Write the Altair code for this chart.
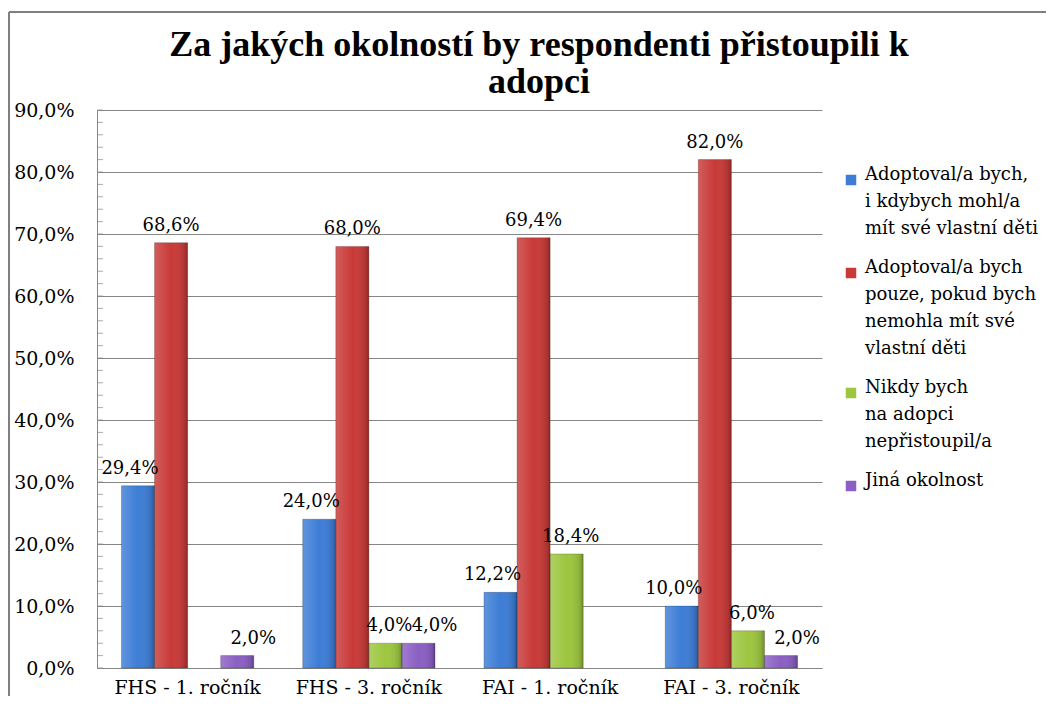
import altair as alt
import pandas as pd

title_lines = ["Za jakých okolností by respondenti přistoupili k", "adopci"]
categories = ["FHS - 1. ročník", "FHS - 3. ročník", "FAI - 1. ročník", "FAI - 3. ročník"]
series = [
    "Adoptoval/a bych,|i kdybych mohl/a|mít své vlastní děti",
    "Adoptoval/a bych|pouze, pokud bych|nemohla mít své|vlastní děti",
    "Nikdy bych|na adopci|nepřistoupil/a",
    "Jiná okolnost",
]
colors = ["#3D7DD6", "#C83A38", "#9DC63F", "#8B5FC3"]
label_dx = [-8, 0, 4, 16]

s_adopt_anyway = [29.4, 24.0, 12.2, 10.0]
s_adopt_only = [68.6, 68.0, 69.4, 82.0]
s_never = [None, 4.0, 18.4, 6.0]
s_other = [2.0, 4.0, None, 2.0]

y_ticks = [0, 10, 20, 30, 40, 50, 60, 70, 80, 90]
minor_ticks = list(range(0, 91, 2))

rows = []
for s, vals in zip(series, [s_adopt_anyway, s_adopt_only, s_never, s_other]):
    for c, v in zip(categories, vals):
        if v is None:
            continue
        rows.append({"cat": c, "series": s, "value": v,
                     "label": f"{v:.1f}".replace(".", ",") + "%"})
df = pd.DataFrame(rows)
df_minor = pd.DataFrame({"value": minor_ticks})
df_one = pd.DataFrame({"k": [0]})

GRAY = "#868686"
FONT = "DejaVu Serif"
TITLE_FONT = "Liberation Serif"

x_enc = alt.X("cat:N", sort=categories, title=None,
              scale=alt.Scale(paddingInner=0.27, paddingOuter=0.135),
              axis=alt.Axis(labelAngle=0, ticks=False, domainColor=GRAY, domainWidth=1,
                            labelFont=FONT, labelFontSize=19, labelColor="black",
                            labelPadding=10))
xo_enc = alt.XOffset("series:N", sort=series, scale=alt.Scale(paddingInner=0, paddingOuter=0))
y_enc = alt.Y("value:Q", title=None,
              scale=alt.Scale(domain=[0, 90], nice=False),
              axis=alt.Axis(values=y_ticks, ticks=False, grid=True, gridColor=GRAY, gridWidth=1,
                            domainColor=GRAY, domainWidth=1, labelFont=FONT, labelFontSize=19,
                            labelColor="black", labelPadding=23,
                            labelExpr="replace(format(datum.value, '.1f'), '.', ',') + '%'"))

base = alt.Chart(df)

bars = base.mark_bar().encode(
    x=x_enc, xOffset=xo_enc, y=y_enc,
    color=alt.Color("series:N", sort=series,
                    scale=alt.Scale(domain=series, range=colors),
                    legend=alt.Legend(title=None, orient="none", legendX=745, legendY=61,
                                      symbolType="square", symbolSize=110, symbolStrokeWidth=0,
                                      labelFont=FONT, labelFontSize=18, labelColor="black",
                                      labelOffset=5, labelLimit=400, rowPadding=21,
                                      labelBaseline="alphabetic",
                                      labelExpr="split(datum.label, '|')")),
)

shade = base.mark_bar(
    fill={"gradient": "linear", "x1": 0, "x2": 1, "y1": 0, "y2": 0,
          "stops": [{"offset": 0, "color": "rgba(255,255,255,0.18)"},
                    {"offset": 0.5, "color": "rgba(255,255,255,0)"},
                    {"offset": 0.9, "color": "rgba(0,0,0,0.12)"},
                    {"offset": 1, "color": "rgba(0,0,0,0.3)"}]},
    stroke="rgba(0,0,0,0.2)", strokeWidth=1,
).encode(x=x_enc, xOffset=xo_enc, y=y_enc)

label_layers = []
for s, dx in zip(series, label_dx):
    label_layers.append(
        base.transform_filter(alt.datum.series == s)
        .mark_text(font=FONT, fontSize=18, dy=-12, dx=dx, baseline="alphabetic", color="black")
        .encode(x=x_enc, xOffset=xo_enc, y=y_enc, text="label:N")
    )

minor = alt.Chart(df_minor).mark_tick(orient="horizontal", size=6, thickness=1,
                                      color=GRAY).encode(
    y=alt.Y("value:Q"), x=alt.value(3))

frame_left = alt.Chart(df_one).mark_rule(color="#7f7f7f", strokeWidth=2).encode(
    x=alt.value(-88), y=alt.value(-98), y2=alt.value(600))
frame_top = alt.Chart(df_one).mark_rule(color="#7f7f7f", strokeWidth=2).encode(
    x=alt.value(-88), x2=alt.value(960), y=alt.value(-98))

title = alt.Chart(df_one).mark_text(
    text=title_lines, font=TITLE_FONT, fontSize=36, fontWeight="bold", color="black",
    align="center", baseline="alphabetic", lineHeight=37,
).encode(x=alt.value(442), y=alt.value(-54))

chart = alt.layer(frame_left, frame_top, title, bars, shade, minor, *label_layers).properties(
    width=725, height=558,
    autosize=alt.AutoSizeParams(type="none"),
    padding={"left": 89, "top": 102, "right": 224, "bottom": 28},
).configure(
    view=alt.ViewConfig(stroke=None),
    style={"guide-label": {"lineHeight": 27}},
)

chart.save("out.html", embed_options={"renderer": "svg", "actions": False})
